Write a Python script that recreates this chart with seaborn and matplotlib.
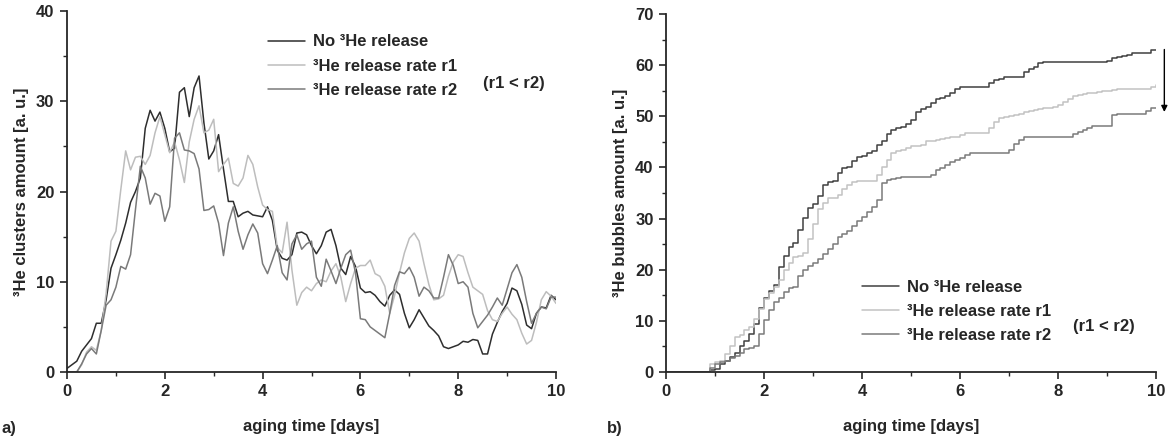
import numpy as np
import pandas as pd
import matplotlib
matplotlib.use("Agg")
import matplotlib.pyplot as plt
import seaborn as sns
from matplotlib.ticker import MultipleLocator

# ---------------- data ----------------
time_days = [round(0.1 * i, 1) for i in range(101)]

series_names = ["No ³He release", "³He release rate r1", "³He release rate r2"]

clusters_none = [
    0.4, 0.8, 1.2, 2.3, 3.0, 3.7, 5.4, 5.4, 8.0, 11.5,
    13.0, 14.6, 16.5, 18.8, 20.0, 21.5, 27.0, 29.0, 27.8, 28.8,
    27.0, 24.4, 24.8, 31.0, 31.5, 28.3, 31.5, 32.8, 27.6, 23.6,
    24.5, 26.3, 22.5, 18.9, 18.9, 17.2, 17.6, 17.8, 17.4, 17.3,
    17.2, 18.3, 16.8, 13.5, 12.6, 12.4, 13.0, 15.4, 15.5, 15.2,
    14.0, 13.1, 14.0, 15.5, 15.8, 14.0, 11.5, 10.8, 12.8, 11.7,
    9.3, 8.8, 8.9, 8.5, 7.8, 7.3, 8.5, 9.1, 8.6, 6.5,
    4.9, 5.8, 6.9, 6.0, 5.1, 4.6, 4.0, 2.8, 2.6, 2.8,
    3.0, 3.4, 3.3, 3.6, 3.5, 2.0, 2.0, 4.2, 5.5, 6.7,
    7.6, 9.3, 9.0, 7.5, 5.2, 4.8, 6.5, 7.2, 7.1, 8.5,
    8.0,
]
clusters_r1 = [
    0.0, 0.0, 0.0, 0.8, 2.2, 2.8, 2.4, 4.6, 8.7, 14.5,
    15.6, 20.2, 24.5, 22.4, 23.8, 23.9, 23.0, 24.0, 26.5, 28.3,
    26.3, 24.3, 25.5, 23.5, 21.0, 25.5, 28.0, 29.5, 26.5, 26.8,
    28.0, 22.2, 23.0, 23.7, 20.9, 20.6, 21.5, 24.0, 23.0, 20.5,
    18.5, 18.0, 17.8, 13.8, 13.2, 16.6, 11.3, 7.4, 8.8, 9.4,
    9.0, 9.8, 10.2, 10.0, 11.2, 12.0, 10.5, 7.8, 9.8, 11.5,
    11.8, 11.8, 12.4, 10.9, 10.6, 9.5, 6.5, 8.5, 11.0, 13.2,
    14.8, 15.4, 14.5, 12.0, 9.7, 8.0, 8.1, 8.5, 10.6, 12.2,
    13.0, 12.8, 11.0, 9.4, 9.0, 8.6, 6.8, 5.8, 5.6, 6.5,
    7.2, 6.4, 5.8, 4.3, 3.1, 3.5, 5.5, 8.0, 8.9, 8.4,
    7.6,
]
clusters_r2 = [
    0.0, 0.0, 0.0, 0.9, 2.0, 2.6, 2.0, 4.6, 7.4, 8.0,
    9.4, 11.7, 11.4, 13.0, 18.0, 22.8, 21.5, 18.6, 19.8, 19.5,
    16.7, 18.3, 25.9, 26.5, 24.6, 24.5, 24.2, 22.5, 17.9, 18.0,
    18.4, 16.5, 12.9, 16.5, 18.3, 15.6, 13.6, 15.2, 16.4, 15.4,
    12.0, 10.9, 12.4, 14.0, 11.0, 10.2, 14.2, 15.2, 13.6, 14.2,
    14.5, 10.5, 9.5, 12.5, 11.2, 9.8, 11.5, 13.0, 13.5, 11.0,
    5.9, 5.8, 5.0, 4.6, 4.2, 3.8, 6.5, 9.6, 11.1, 10.9,
    11.6, 10.5, 8.4, 9.4, 9.0, 8.2, 8.2, 10.5, 13.0, 11.8,
    9.8, 10.0, 9.4, 6.5, 4.9, 5.6, 6.3, 7.2, 8.2, 7.4,
    9.2, 11.0, 11.9, 10.5, 7.8, 5.4, 6.5, 7.2, 7.0, 8.3,
    8.3,
]

bubbles_none = [
    0, 0, 0, 0, 0, 0, 0, 0, 0, 0.3,
    0.6, 1.5, 2.2, 3.0, 3.8, 5.0, 6.0, 7.5, 9.3, 12.5,
    14.5, 15.8, 17.0, 20.5, 22.6, 24.5, 25.3, 27.8, 30.2, 32.0,
    32.8, 34.5, 36.5, 37.2, 37.4, 39.0, 39.8, 40.0, 41.2, 42.0,
    42.2, 42.8, 43.2, 44.3, 45.2, 46.5, 47.3, 47.8, 48.0, 48.5,
    49.2, 50.8, 51.5, 51.9, 52.6, 53.3, 53.6, 53.9, 54.6, 55.4,
    55.7, 55.7, 55.7, 55.7, 55.7, 55.7, 56.5, 57.1, 57.3, 57.6,
    57.6, 57.6, 57.6, 58.6, 59.2, 59.7, 60.5, 60.7, 60.7, 60.7,
    60.7, 60.7, 60.7, 60.7, 60.7, 60.7, 60.7, 60.7, 60.7, 60.7,
    60.9, 61.4, 61.5, 61.7, 62.0, 62.4, 62.4, 62.4, 62.4, 63.0,
    63.0,
]
bubbles_r1 = [
    0, 0, 0, 0, 0, 0, 0, 0, 0, 1.5,
    2.0, 2.2, 3.6, 5.0, 6.9, 7.2, 8.2, 8.8, 10.3, 12.4,
    14.3, 15.5, 16.6, 17.9, 20.0, 21.4, 22.5, 22.7, 23.2, 26.0,
    29.0, 31.8, 33.0, 34.0, 34.1, 34.6, 35.8, 36.5, 37.2, 37.3,
    37.3, 37.3, 37.3, 38.5, 40.0, 41.5, 42.8, 43.2, 43.5, 43.8,
    44.1, 44.1, 44.4, 45.1, 45.2, 45.4, 45.5, 45.7, 45.9, 46.0,
    46.3, 46.7, 46.7, 46.7, 46.7, 46.7, 47.8, 48.8, 49.7, 49.9,
    50.1, 50.3, 50.5, 50.9, 51.0, 51.2, 51.4, 51.6, 51.7, 51.9,
    52.3, 52.8, 53.4, 53.9, 54.2, 54.4, 54.5, 54.6, 54.7, 54.9,
    55.0, 55.2, 55.3, 55.3, 55.3, 55.3, 55.3, 55.3, 55.3, 55.8,
    56.2,
]
bubbles_r2 = [
    0, 0, 0, 0, 0, 0, 0, 0, 0, 0.8,
    1.5, 1.9, 2.2, 2.8, 3.2, 3.8, 4.4, 4.6, 5.0, 7.5,
    10.2, 12.2, 13.6, 14.4, 15.6, 16.5, 16.6, 18.8, 20.0, 20.8,
    21.4, 22.1, 23.0, 24.0, 25.0, 26.3, 26.9, 27.6, 28.5, 29.5,
    30.4, 31.2, 32.3, 33.7, 37.0, 37.6, 37.8, 38.0, 38.2, 38.2,
    38.2, 38.2, 38.2, 38.2, 38.6, 39.4, 39.9, 40.4, 41.0, 41.5,
    41.9, 42.4, 42.8, 42.8, 42.8, 42.8, 42.8, 42.8, 42.8, 42.8,
    43.5, 44.5, 45.3, 45.9, 46.0, 46.0, 46.0, 46.0, 46.0, 46.0,
    46.0, 46.0, 46.0, 46.5, 47.0, 47.4, 47.8, 48.1, 48.1, 48.1,
    48.1, 50.2, 50.4, 50.4, 50.4, 50.4, 50.4, 50.4, 51.0, 51.7,
    51.7,
]

# ---------------- styling ----------------
sns.set_style("ticks")
plt.rcParams["font.family"] = ["Liberation Sans", "DejaVu Sans"]
plt.rcParams["font.weight"] = "bold"
plt.rcParams["axes.labelweight"] = "bold"
FS = 12

palette_a = ["#2e2e2e", "#bdbdbd", "#7a7a7a"]
palette_b = ["#404040", "#c2c2c2", "#7a7a7a"]


def long_df(values_list):
    frames = []
    for name, vals in zip(series_names, values_list):
        frames.append(pd.DataFrame({"t": time_days, "v": vals, "s": name}))
    return pd.concat(frames, ignore_index=True)


df_a = long_df([clusters_none, clusters_r1, clusters_r2])
df_b = long_df([bubbles_none, bubbles_r1, bubbles_r2])

W, H = 1173, 441
fig = plt.figure(figsize=(W / 100, H / 100), dpi=100)
ax_a = fig.add_axes([67 / W, 1 - 372 / H, 489 / W, 361 / H])
ax_b = fig.add_axes([666 / W, 1 - 372 / H, 490 / W, 358 / H])

sns.lineplot(data=df_a, x="t", y="v", hue="s", hue_order=series_names,
             palette=palette_a, ax=ax_a, legend=False, linewidth=1.1,
             estimator=None, sort=True)
sns.lineplot(data=df_b, x="t", y="v", hue="s", hue_order=series_names,
             palette=palette_b, ax=ax_b, legend=False, linewidth=1.1,
             estimator=None, sort=True, drawstyle="steps-post")

for ax, ymax, ylab in [(ax_a, 40, "³He clusters amount [a. u.]"),
                       (ax_b, 70, "³He bubbles amount [a. u.]")]:
    ax.set_xlim(0, 10)
    ax.set_ylim(0, ymax)
    ax.xaxis.set_major_locator(MultipleLocator(2))
    ax.xaxis.set_minor_locator(MultipleLocator(1))
    ax.yaxis.set_major_locator(MultipleLocator(10))
    ax.yaxis.set_minor_locator(MultipleLocator(5))
    ax.tick_params(which="major", direction="out", length=5, width=1.2,
                   labelsize=FS, pad=4)
    ax.tick_params(which="minor", direction="out", length=3, width=1.0)
    for lbl in ax.get_xticklabels() + ax.get_yticklabels():
        lbl.set_fontweight("bold")
    sns.despine(ax=ax)
    for sp in ("left", "bottom"):
        ax.spines[sp].set_linewidth(1.3)
    ax.set_xlabel("aging time [days]", fontsize=FS, fontweight="bold")
    ax.set_ylabel(ylab, fontsize=FS, fontweight="bold")
    ax.xaxis.set_label_coords(0.5, -0.13)
    ax.yaxis.set_label_coords(-0.078, 0.5)

leg_kw = dict(loc="upper left", frameon=False, borderpad=0, borderaxespad=0,
              handlelength=2.2, handletextpad=0.48, labelspacing=0.55,
              prop={"size": FS, "weight": "bold"})
ax_a.legend(ax_a.get_lines()[:3], series_names,
            bbox_to_anchor=(0.411, 0.935), **leg_kw)
ax_a.text(0.851, 0.80, "(r1 < r2)", transform=ax_a.transAxes,
          fontsize=FS, fontweight="bold", va="center", ha="left")

ax_b.legend(ax_b.get_lines()[:3], series_names,
            bbox_to_anchor=(0.40, 0.257), **leg_kw)
ax_b.text(0.83, 0.126, "(r1 < r2)", transform=ax_b.transAxes,
          fontsize=FS, fontweight="bold", va="center", ha="left")

ax_b.annotate("", xy=(10.17, 50.3), xytext=(10.17, 63.6),
              arrowprops=dict(arrowstyle="-|>", color="black", lw=1.0,
                              mutation_scale=9),
              annotation_clip=False)

fig.text(2 / W, 1 - 428 / H, "a)", fontsize=FS, fontweight="bold",
         va="center", ha="left")
fig.text(607 / W, 1 - 428 / H, "b)", fontsize=FS, fontweight="bold",
         va="center", ha="left")

fig.savefig("out.png", dpi=100)
